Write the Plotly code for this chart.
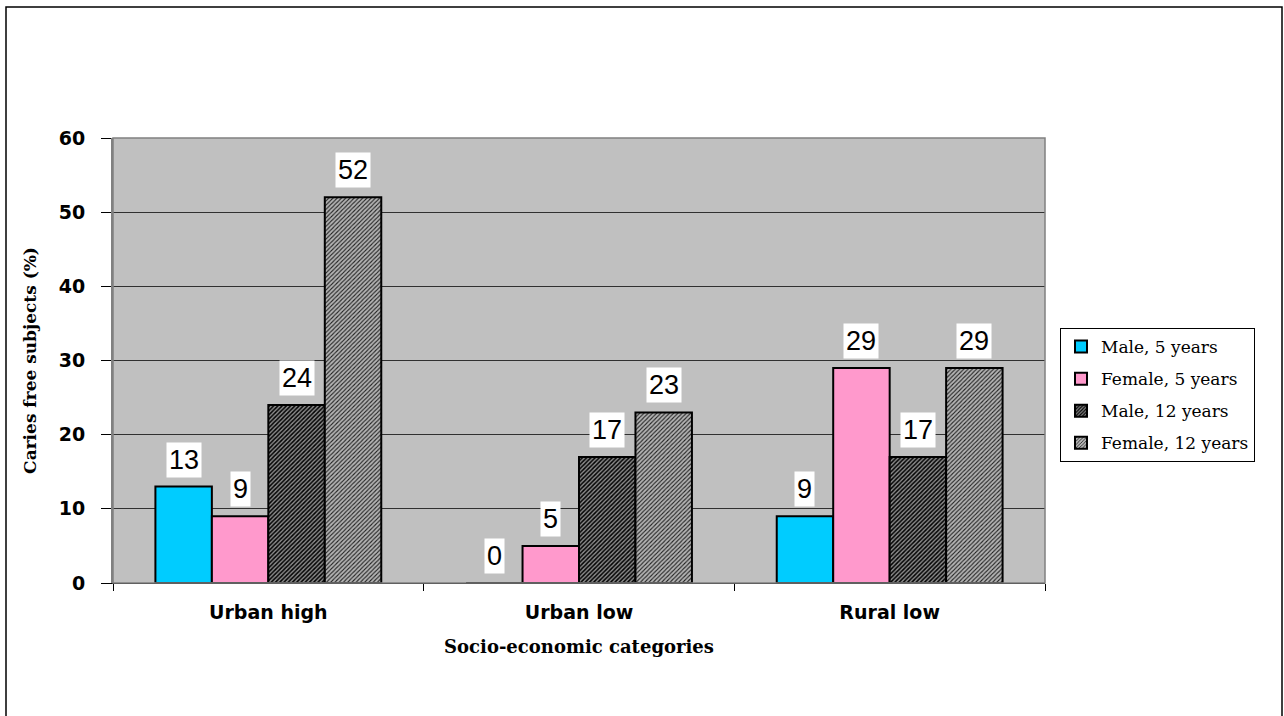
import plotly.graph_objects as go

categories = ["Urban high", "Urban low", "Rural low"]
series_names = ["Male, 5 years", "Female, 5 years", "Male, 12 years", "Female, 12 years"]
male_5 = [13, 0, 9]
female_5 = [9, 5, 29]
male_12 = [24, 17, 17]
female_12 = [52, 23, 29]
y_ticks = [0, 10, 20, 30, 40, 50, 60]

series_values = [male_5, female_5, male_12, female_12]
styles = [
    dict(color="#00CCFF", pattern=None),
    dict(color="#FF99CC", pattern=None),
    dict(color="#6e6e6e", pattern=dict(shape="/", fgcolor="#000000", bgcolor="#8c8c8c", size=3, solidity=0.5, fillmode="replace")),
    dict(color="#a0a0a0", pattern=dict(shape="/", fgcolor="#202020", bgcolor="#b4b4b4", size=3, solidity=0.35, fillmode="replace")),
]

bargap = 0.273
n = len(series_values)
bar_w = (1 - bargap) / n

fig = go.Figure()
for i, (name, vals, st) in enumerate(zip(series_names, series_values, styles)):
    marker = dict(color=st["color"], line=dict(color="#000000", width=2))
    if st["pattern"]:
        marker["pattern"] = st["pattern"]
    fig.add_trace(go.Bar(
        x=categories, y=vals, name=name, marker=marker,
        legendgroup=name,
    ))

annotations = []
for i, vals in enumerate(series_values):
    for c, v in enumerate(vals):
        annotations.append(dict(
            x=c + (i - (n - 1) / 2) * bar_w, y=v, xref="x", yref="y",
            text=str(v), showarrow=False, yanchor="bottom", yshift=9,
            bgcolor="#FFFFFF", borderpad=2,
            font=dict(family="Liberation Sans, Arial", size=27, color="#000000"),
        ))

L, R, T, B = 113, 239, 138, 133
W, H = 1284, 716
pw, ph = W - L - R, H - T - B

shapes = [
    dict(type="rect", xref="paper", yref="paper",
         x0=(6 - L) / pw, x1=(1282 - L) / pw, y0=(H - B - 722) / ph, y1=(H - B - 7) / ph,
         line=dict(color="#000000", width=1.5), fillcolor="rgba(0,0,0,0)", layer="below"),
    dict(type="rect", xref="paper", yref="paper", x0=0, x1=1, y0=0, y1=1,
         line=dict(color="#808080", width=1.5), fillcolor="rgba(0,0,0,0)"),
]

fig.update_layout(
    width=W, height=H,
    margin=dict(l=L, r=R, t=T, b=B, pad=0),
    paper_bgcolor="#FFFFFF",
    plot_bgcolor="#C0C0C0",
    barmode="group", bargap=bargap, bargroupgap=0,
    showlegend=True,
    legend=dict(
        x=(1060 - L) / pw, y=(H - B - 328) / ph, xanchor="left", yanchor="top",
        bgcolor="#FFFFFF", bordercolor="#000000", borderwidth=1,
        font=dict(family="DejaVu Serif, Liberation Serif", size=17, color="#000000"),
        tracegroupgap=7, itemwidth=30,
    ),
    xaxis=dict(
        type="category", range=[-0.5, 2.5],
        tickson="boundaries", ticks="outside", ticklen=7, tickcolor="#000000", tickwidth=1,
        showgrid=False, showline=True, linecolor="#000000", linewidth=1,
        ticklabelstandoff=12,
        tickfont=dict(family="DejaVu Sans, Liberation Sans", size=19, color="#000000", weight="bold"),
        title=dict(text="Socio-economic categories", standoff=18,
                   font=dict(family="DejaVu Serif, Liberation Serif", size=18, color="#000000", weight="bold")),
    ),
    yaxis=dict(
        range=[0, 60], tickvals=y_ticks, ticks="outside", ticklen=10, tickcolor="#000000", tickwidth=1,
        showgrid=True, gridcolor="#303030", gridwidth=1.2,
        showline=True, linecolor="#808080", linewidth=2, zeroline=False,
        tickfont=dict(family="DejaVu Sans, Liberation Sans", size=19, color="#000000", weight="bold"),
        ticklabelstandoff=12,
        title=dict(text="Caries free subjects (%)", standoff=18,
                   font=dict(family="DejaVu Serif, Liberation Serif", size=17, color="#000000", weight="bold")),
    ),
    annotations=annotations,
    shapes=shapes,
)

fig.write_html("out.html")
